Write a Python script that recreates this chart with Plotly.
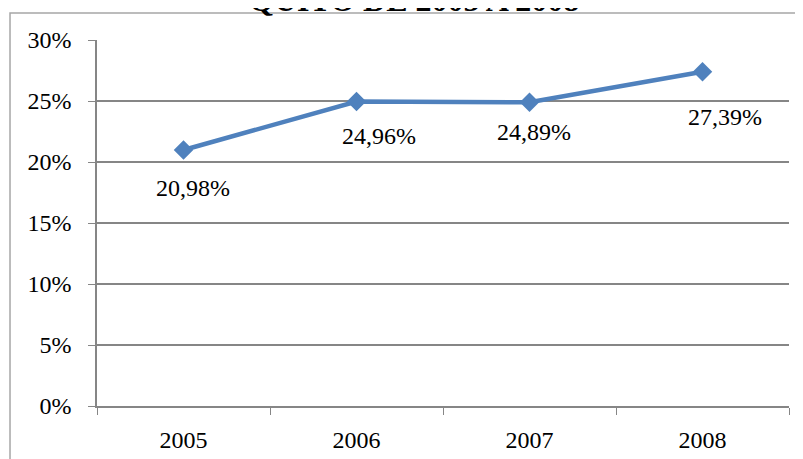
import plotly.graph_objects as go

years = ["2005", "2006", "2007", "2008"]
values = [0.2098, 0.2496, 0.2489, 0.2739]
labels = ["20,98%", "24,96%", "24,89%", "27,39%"]
label_dx = [9, 22, 4, 22]
label_dy = [-38, -35, -30, -45]

serif = "Liberation Serif"

fig = go.Figure()
fig.add_trace(go.Scatter(
    x=years, y=values, mode="lines+markers",
    line=dict(color="#4F81BD", width=4.5),
    marker=dict(symbol="diamond", size=15, color="#4F81BD"),
    hoverinfo="skip", showlegend=False,
))

# data labels, placed by category index
for i, (v, t, dx, dy) in enumerate(zip(values, labels, label_dx, label_dy)):
    fig.add_annotation(x=i, y=v, text=t, showarrow=False,
                       xshift=dx, yshift=dy,
                       font=dict(family=serif, size=24, color="#000000"))

# title, cut off by the top of the page
fig.add_annotation(xref="paper", yref="paper", x=0.458, y=1.056,
                   text="<b>QUITO DE 2005 A 2008</b>", showarrow=False,
                   yanchor="bottom", font=dict(family=serif, size=32, color="#000000"))

# outer chart border
fig.add_shape(type="rect", xref="paper", yref="paper",
              x0=-0.1257, x1=1.05, y0=-0.3, y1=1.0738,
              line=dict(color="#A6A6A6", width=1.5), layer="below")

fig.update_xaxes(
    type="category", range=[-0.5, 3.5], tickson="boundaries", ticks="outside", ticklen=7,
    tickcolor="#868686", showline=True, linecolor="#868686", linewidth=1.5,
    showgrid=False, tickangle=0, tickfont=dict(family=serif, size=24, color="#000000"),
    ticklabelstandoff=11, automargin=False,
)
fig.update_yaxes(
    range=[0, 0.30], dtick=0.05, tickformat=".0%", ticks="outside", ticklen=7,
    tickcolor="#868686", showline=True, linecolor="#868686", linewidth=1.5,
    gridcolor="#868686", gridwidth=1.5, zeroline=False,
    tickfont=dict(family=serif, size=24, color="#000000"),
    ticklabelstandoff=12, automargin=False,
)

# the page body adds 8px, so the figure is a little smaller than the window
fig.update_layout(
    width=795, height=451,
    margin=dict(l=89, r=14, t=32, b=53),
    paper_bgcolor="white", plot_bgcolor="white",
    font=dict(family=serif),
)

fig.write_html("out.html")
